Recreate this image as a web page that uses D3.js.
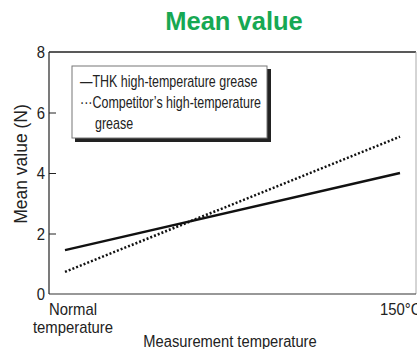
<!DOCTYPE html>
<html><head><meta charset="utf-8">
<script src="https://cdn.jsdelivr.net/npm/d3@7"></script>
<style>body{margin:0;background:#fff}svg{display:block;font-family:"Liberation Sans",Arial,sans-serif}</style>
</head><body>
<svg id="c" width="417" height="349"></svg>
<script>
const xPositions = [0, 150];
const xTickLabels = [["Normal","temperature"],["150°C"]];
const thkValues = [1.45, 4.0];
const competitorValues = [0.73, 5.2];
const yTicks = [0, 2, 4, 6, 8];
const seriesNames = ["THK high-temperature grease", "Competitor’s high-temperature", "grease"];

const svg = d3.select("#c");
const L = 49, T = 52, R = 416, B = 294;
const x = d3.scaleLinear().domain([0,150]).range([65,400]);
const y = d3.scaleLinear().domain([0,8]).range([B,T]);

function txt(g, px, py, str, size, sx, anchor, extra){
  const t = g.append("text").attr("transform",`translate(${px},${py}) scale(${sx},1)${extra||""}`)
    .attr("font-size",size).attr("fill","#222").attr("text-anchor",anchor||"start").text(str);
  return t;
}

svg.append("text").attr("x",234).attr("y",29.5).attr("text-anchor","middle")
  .attr("font-size",25.5).attr("font-weight","bold").attr("fill","#17a853").text("Mean value");

// frame
svg.append("line").attr("x1",L).attr("x2",R).attr("y1",T).attr("y2",T).attr("stroke","#222").attr("stroke-width",1.5);
svg.append("line").attr("x1",R).attr("x2",R).attr("y1",T).attr("y2",B).attr("stroke","#aaa").attr("stroke-width",1);
svg.append("line").attr("x1",L).attr("x2",R).attr("y1",B).attr("y2",B).attr("stroke","#333").attr("stroke-width",1.2);
svg.append("line").attr("x1",L).attr("x2",L).attr("y1",T).attr("y2",B).attr("stroke","#222").attr("stroke-width",1.2);

const yAxis = svg.append("g").attr("transform",`translate(${L},0)`)
  .call(d3.axisLeft(y).tickValues(yTicks).tickSizeInner(-7).tickSizeOuter(0).tickPadding(4));
yAxis.select(".domain").remove();
yAxis.selectAll("line").attr("stroke","#222");
yAxis.selectAll(".tick text").each(function(){
  const t = d3.select(this);
  const xx = +t.attr("x");
  t.attr("x",null).attr("dy","0.36em").attr("transform",`translate(${xx},0) scale(0.93,1)`)
   .attr("font-size",16).attr("fill","#222").attr("font-family","Liberation Sans, Arial, sans-serif");
});
yAxis.selectAll(".tick").filter(d=>d===0||d===8).select("line").remove();

// x labels
const xl = svg.append("g");
xTickLabels[0].forEach((s,j)=>txt(xl, x(xPositions[0])+8, 315+j*18, s, 16, 0.93, "middle"));
txt(xl, 380, 315, xTickLabels[1][0], 16, 0.93, "start");

txt(svg, 230, 347, "Measurement temperature", 16, 0.92, "middle");
svg.append("text").attr("transform","translate(27,164) rotate(-90)").attr("text-anchor","middle")
  .attr("font-size",17.5).attr("fill","#222").text("Mean value (N)");

const line = d3.line().x((d,i)=>x(xPositions[i])).y(d=>y(d));
svg.append("path").datum(thkValues).attr("d",line).attr("fill","none").attr("stroke","#111").attr("stroke-width",2.5);
svg.append("path").datum(competitorValues).attr("d",line).attr("fill","none").attr("stroke","#111").attr("stroke-width",2.5).attr("stroke-dasharray","2,2");

// legend
svg.append("rect").attr("x",75).attr("y",69).attr("width",196).attr("height",73).attr("fill","#222");
svg.append("rect").attr("x",72).attr("y",66).attr("width",195).attr("height",72).attr("fill","#fff").attr("stroke","#777");
const lg = svg.append("g");
txt(lg, 80, 87, "—"+seriesNames[0], 16, 0.78);
txt(lg, 80, 108, "···"+seriesNames[1], 16, 0.78);
txt(lg, 95, 128.5, seriesNames[2], 16, 0.78);
</script>
</body></html>
